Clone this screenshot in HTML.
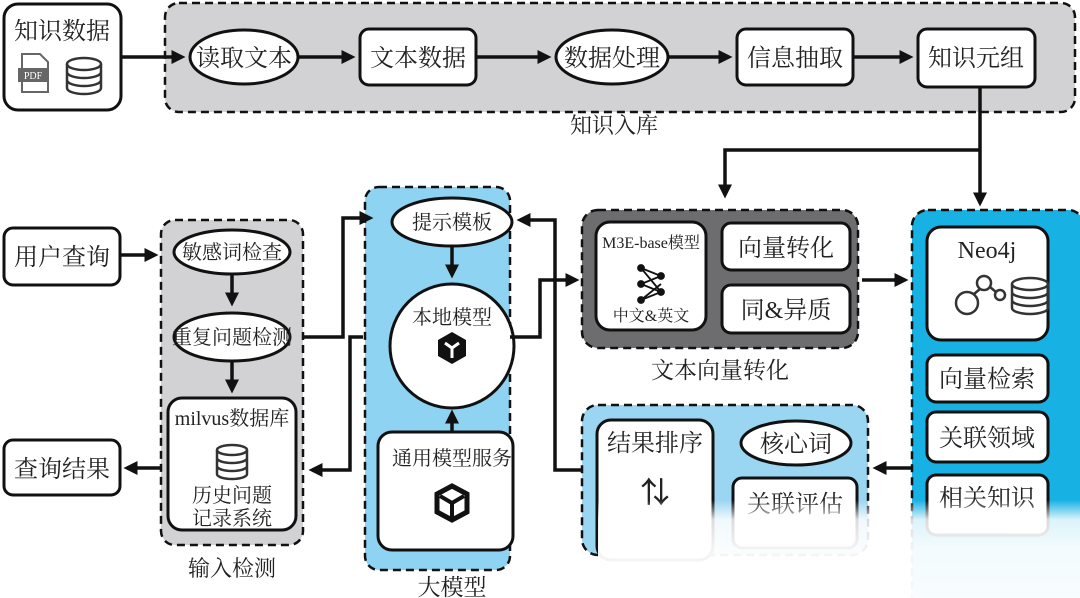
<!DOCTYPE html>
<html><head><meta charset="utf-8"><style>
html,body{margin:0;padding:0;background:#fff;}
svg{display:block;}
text{font-family:"Liberation Serif","Noto Serif CJK SC","Noto Sans CJK SC",serif;fill:#222;}
</style></head><body>
<svg width="1080" height="598" viewBox="0 0 1080 598" xmlns="http://www.w3.org/2000/svg">
<defs>
<marker id="a" markerWidth="4" markerHeight="4" refX="3" refY="2" orient="auto" markerUnits="strokeWidth"><path d="M0,0 L4,2 L0,4 z" fill="#111"/></marker>
<linearGradient id="fade" x1="0" y1="0" x2="0" y2="1">
<stop offset="0" stop-color="#fff" stop-opacity="0"/>
<stop offset="0.2" stop-color="#fff" stop-opacity="0.85"/>
<stop offset="0.5" stop-color="#fff" stop-opacity="0.95"/>
<stop offset="1" stop-color="#fff" stop-opacity="0.97"/>
</linearGradient>
</defs>
<g stroke="#111" stroke-width="2.5" fill="none">
<rect x="165" y="3" width="910" height="109" rx="14" fill="#d2d2d4" stroke-dasharray="8,5"/>
<rect x="4" y="4" width="117" height="106" rx="14" fill="#fff" stroke-width="3"/>
<ellipse cx="244" cy="57" rx="54" ry="27" fill="#fff" stroke-width="3"/>
<rect x="360" y="29" width="116" height="56" rx="9" fill="#fff" stroke-width="3"/>
<ellipse cx="612" cy="57" rx="56" ry="27" fill="#fff" stroke-width="3"/>
<rect x="737" y="29" width="116" height="56" rx="9" fill="#fff" stroke-width="3"/>
<rect x="918" y="29" width="117" height="58" rx="9" fill="#fff" stroke-width="3"/>
<rect x="161" y="220" width="142" height="325" rx="14" fill="#d2d2d4" stroke-dasharray="8,5"/>
<rect x="365" y="187" width="145" height="383" rx="14" fill="#8fd3f2" stroke-dasharray="8,5"/>
<rect x="582" y="210" width="276" height="138" rx="16" fill="#6d6d70" stroke-dasharray="8,5"/>
<rect x="582" y="405" width="286" height="150" rx="16" fill="#9ad6f2" stroke-dasharray="8,5"/>
<rect x="912" y="210" width="172" height="400" rx="16" fill="#17b1e4" stroke-dasharray="8,5"/>
<rect x="4" y="228" width="116" height="57" rx="9" fill="#fff" stroke-width="3"/>
<rect x="4" y="440" width="116" height="55" rx="9" fill="#fff" stroke-width="3"/>
<ellipse cx="232" cy="252" rx="58" ry="22" fill="#fff" stroke-width="3"/>
<ellipse cx="232" cy="337" rx="58" ry="24" fill="#fff" stroke-width="3"/>
<rect x="168" y="398" width="128" height="132" rx="14" fill="#fff" stroke-width="3"/>
<ellipse cx="452" cy="222" rx="60" ry="24" fill="#fff" stroke-width="3"/>
<circle cx="452" cy="346" r="62" fill="#fff" stroke-width="3"/>
<rect x="378" y="432" width="135" height="118" rx="14" fill="#fff" stroke-width="3"/>
<rect x="596" y="222" width="110" height="108" rx="14" fill="#fff" stroke-width="3"/>
<rect x="722" y="223" width="128" height="47" rx="9" fill="#fff" stroke-width="3"/>
<rect x="722" y="285" width="128" height="48" rx="9" fill="#fff" stroke-width="3"/>
<rect x="597" y="420" width="116" height="140" rx="14" fill="#fff" stroke-width="3"/>
<ellipse cx="796" cy="443" rx="55" ry="22" fill="#fff" stroke-width="3"/>
<rect x="733" y="478" width="124" height="70" rx="9" fill="#fff" stroke-width="3"/>
<rect x="927" y="227" width="121" height="113" rx="14" fill="#fff" stroke-width="3"/>
<rect x="927" y="355" width="121" height="47" rx="9" fill="#fff" stroke-width="3"/>
<rect x="927" y="412" width="121" height="50" rx="9" fill="#fff" stroke-width="3"/>
<rect x="927" y="475" width="121" height="60" rx="9" fill="#fff" stroke-width="3"/>
</g>
<g stroke="#111" stroke-width="3.5" fill="none" marker-end="url(#a)">
<line x1="122" y1="57" x2="182" y2="57"/>
<line x1="298" y1="57" x2="352" y2="57"/>
<line x1="476" y1="57" x2="548" y2="57"/>
<line x1="668" y1="57" x2="729" y2="57"/>
<line x1="853" y1="57" x2="910" y2="57"/>
<polyline points="980,87 980,203"/>
<polyline points="980,150 725,150 725,195"/>
<line x1="121" y1="255" x2="155" y2="255"/>
<line x1="232" y1="274" x2="232" y2="303"/>
<line x1="232" y1="361" x2="232" y2="390"/>
<polyline points="303,337 343,337 343,218 370,218"/>
<polyline points="363,337 350,337 350,470 312,470"/>
<line x1="161" y1="468" x2="127" y2="468"/>
<line x1="452" y1="246" x2="452" y2="275"/>
<line x1="452" y1="432" x2="452" y2="413"/>
<polyline points="510,337 540,337 540,280 576,280"/>
<polyline points="582,470 555,470 555,220 520,220"/>
<line x1="862" y1="280" x2="905" y2="280"/>
<line x1="912" y1="468" x2="876" y2="468"/>
</g>
<g font-size="24" text-anchor="middle">
<text x="62" y="39">知识数据</text>
<text x="244" y="66">读取文本</text>
<text x="418" y="66">文本数据</text>
<text x="612" y="66">数据处理</text>
<text x="795" y="66">信息抽取</text>
<text x="976" y="66">知识元组</text>
<text x="614" y="133" font-size="22">知识入库</text>
<text x="62" y="265">用户查询</text>
<text x="62" y="477">查询结果</text>
<text x="232" y="259" font-size="20">敏感词检查</text>
<text x="232" y="344" font-size="20">重复问题检测</text>
<text x="232" y="425" font-size="20">milvus数据库</text>
<text x="232" y="502" font-size="20">历史问题</text>
<text x="232" y="525" font-size="20">记录系统</text>
<text x="232" y="576" font-size="22">输入检测</text>
<text x="452" y="229" font-size="20">提示模板</text>
<text x="452" y="324" font-size="20">本地模型</text>
<text x="452" y="465" font-size="20">通用模型服务</text>
<text x="452" y="595" font-size="23">大模型</text>
<text x="651" y="248" font-size="16">M3E-base模型</text>
<text x="651" y="321" font-size="16">中文&amp;英文</text>
<text x="786" y="256">向量转化</text>
<text x="786" y="318">同&amp;异质</text>
<text x="720" y="378" font-size="23">文本向量转化</text>
<text x="655" y="451">结果排序</text>
<text x="796" y="452">核心词</text>
<text x="795" y="512">关联评估</text>
<text x="987" y="258">Neo4j</text>
<text x="987" y="387">向量检索</text>
<text x="987" y="446">关联领域</text>
<text x="987" y="506">相关知识</text>
<text x="655" y="502" font-size="28" font-weight="bold" style="stroke:#222;stroke-width:1">⇅</text>
</g>
<g fill="none" stroke="#333" stroke-width="2.5">
<g transform="translate(84,74)"><ellipse cx="0" cy="-10" rx="17" ry="6"/><path d="M-17,-10 v24 a17,6 0 0 0 34,0 v-24 M-17,-2 a17,6 0 0 0 34,0 M-17,6 a17,6 0 0 0 34,0"/></g>
<g transform="translate(232,462)"><ellipse cx="0" cy="-12" rx="15" ry="5"/><path d="M-15,-12 v24 a15,5 0 0 0 30,0 v-24 M-15,-4 a15,5 0 0 0 30,0 M-15,4 a15,5 0 0 0 30,0"/></g>
<g transform="translate(1030,296)"><ellipse cx="0" cy="-12" rx="18" ry="6"/><path d="M-18,-12 v24 a18,6 0 0 0 36,0 v-24 M-18,-4 a18,6 0 0 0 36,0 M-18,4 a18,6 0 0 0 36,0"/></g>
<circle cx="967" cy="303" r="11"/><circle cx="984" cy="283" r="7"/><circle cx="1000" cy="295" r="5"/>
<path d="M974,294 L980,289 M990,287 L996,292"/>
</g>
<g transform="translate(18,54)">
<path d="M4,0 h18 l8,8 v30 h-26 z" fill="#fff" stroke="#666" stroke-width="2"/>
<rect x="0" y="14" width="30" height="14" fill="#666"/>
<text x="15" y="25" font-size="10" font-family="Liberation Sans,sans-serif" text-anchor="middle" style="fill:#fff">PDF</text>
</g>
<polygon points="452,332 466,340 466,356 452,364 438,356 438,340" fill="#111"/>
<path d="M452,348 v10 M452,348 l-7,-5 M452,348 l7,-5" stroke="#fff" stroke-width="3" fill="none"/>
<polygon points="452,486 467,494 467,512 452,520 437,512 437,494" fill="none" stroke="#111" stroke-width="5"/>
<path d="M440,496 l12,7 l12,-7 M452,503 v14" stroke="#111" stroke-width="4" fill="none"/>
<g stroke="#111" stroke-width="1.8" fill="#111">
<path d="M641,268 L661,276 L641,284 L661,292 L641,300 M641,268 L661,292 M641,284 L661,276 M641,300 L661,284 M641,284 L661,292" fill="none"/>
<circle cx="641" cy="268" r="3"/><circle cx="641" cy="284" r="3"/><circle cx="641" cy="300" r="3"/>
<circle cx="661" cy="276" r="3"/><circle cx="661" cy="292" r="3"/>
</g>
<rect x="598" y="500" width="482" height="98" fill="url(#fade)"/>
</svg>
</body></html>
